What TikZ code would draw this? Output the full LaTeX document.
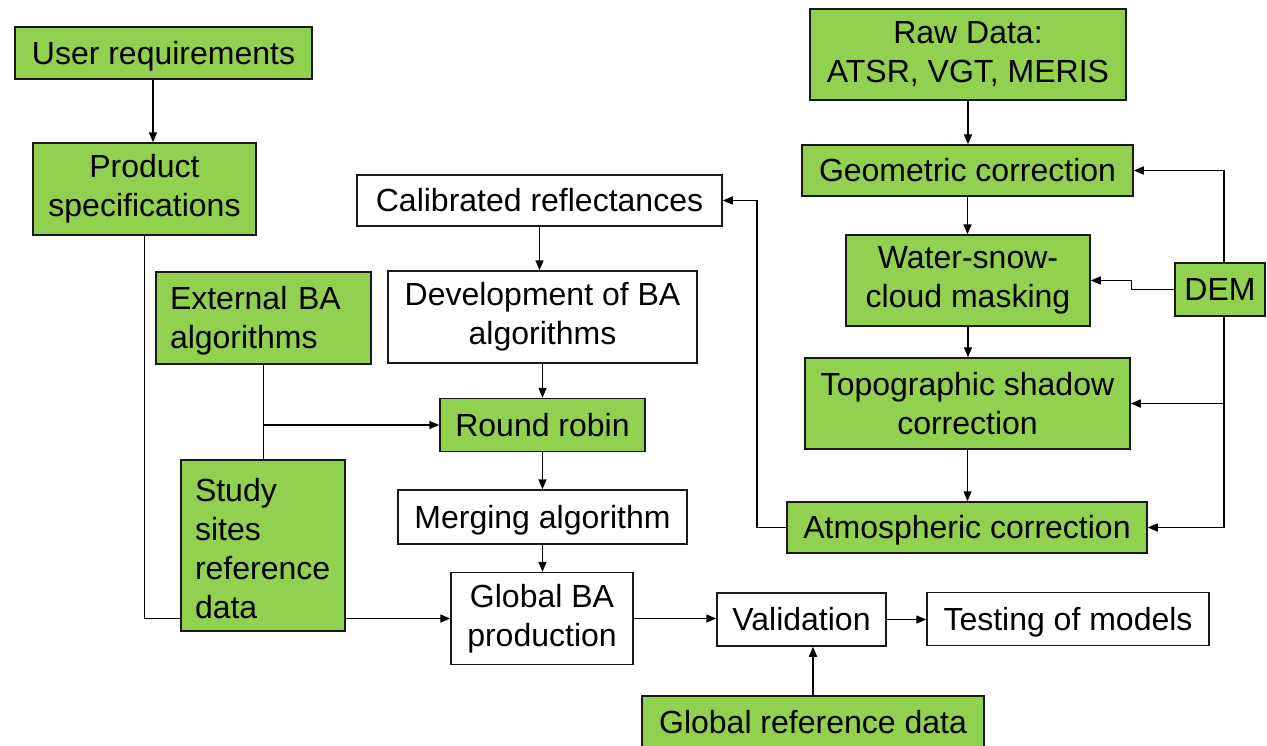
\documentclass[tikz,border=0pt]{standalone}
\usepackage{fontspec}
\setmainfont{Liberation Sans}
\usetikzlibrary{arrows.meta,calc}
\definecolor{boxgreen}{HTML}{92D050}
\tikzset{
  box/.style={draw=black!90, line width=1.5pt, inner sep=0pt, align=center,
    font=\fontsize{32}{39}\selectfont},
  gbox/.style={box, fill=boxgreen},
  wbox/.style={box, fill=white},
  lbox/.style={gbox, align=left, inner xsep=14pt},
  oneline/.style={text height=26pt, text depth=4pt},
  multiline/.style={execute at begin node={\rule{0pt}{29pt}}},
  arr/.style={line width=1.5pt, -{Triangle[length=10pt,width=8pt]}},
  ln/.style={line width=1.5pt}
}
\begin{document}
\begin{tikzpicture}[x=1pt,y=-1pt]
\clip (0,0) rectangle (1267,745);
\fill[white] (0,0) rectangle (1267,745);

% left column
\node[gbox, oneline, minimum width=297pt, minimum height=52pt] (ureq) at (163.5,53) {User requirements};
\node[gbox, multiline, minimum width=223pt, minimum height=92pt] (pspec) at (144.5,189) {Product\\specifications};
\node[lbox, multiline, text width=187pt, minimum height=92pt] (ext) at (263.5,318) {External BA\\algorithms};
\node[lbox, multiline, text width=136pt, minimum height=171pt] (study) at (263,545.5) {Study\\sites\\reference\\data};

% middle column
\node[wbox, oneline, minimum width=365pt, minimum height=51pt] (cal) at (539.5,200.5) {Calibrated reflectances};
\node[wbox, multiline, minimum width=309pt, minimum height=92pt] (dev) at (542.5,317) {Development of BA\\algorithms};
\node[gbox, oneline, minimum width=205pt, minimum height=53pt] (rr) at (542.5,425) {Round robin};
\node[wbox, oneline, minimum width=289pt, minimum height=54pt] (merge) at (542.5,517) {Merging algorithm};
\node[wbox, multiline, minimum width=182pt, minimum height=92pt] (gba) at (542,618.5) {Global BA\\production};

% bottom row
\node[wbox, oneline, minimum width=169pt, minimum height=53pt] (val) at (801.5,619.5) {Validation};
\node[wbox, oneline, minimum width=282pt, minimum height=53pt] (test) at (1068,619) {Testing of models};
\node[gbox, oneline, minimum width=342pt, minimum height=52pt] (gref) at (813,722) {Global reference data};

% pre-processing chain
\node[gbox, multiline, minimum width=316pt, minimum height=91pt] (raw) at (968,54.5) {Raw Data:\\ATSR, VGT, MERIS};
\node[gbox, oneline, minimum width=331pt, minimum height=51pt] (geo) at (967.5,170.5) {Geometric correction};
\node[gbox, multiline, minimum width=244pt, minimum height=91pt] (water) at (968,280.5) {Water-snow-\\cloud masking};
\node[gbox, multiline, minimum width=325pt, minimum height=91pt] (topo) at (967.5,403.5) {Topographic shadow\\correction};
\node[gbox, oneline, minimum width=360pt, minimum height=51pt] (atm) at (967,527.5) {Atmospheric correction};
\node[gbox, oneline, minimum width=90pt, minimum height=53pt] (dem) at (1220,289.5) {DEM};

\coordinate (demx) at (1224,0);
\coordinate (loopx) at (757,0);

% left-side connectors
\draw[arr] ([xshift=-10.5pt]ureq.south) -- ([xshift=8.5pt]pspec.north);
\draw[ln] (pspec.south) |- (study.west |- gba.west);
\draw[arr] (study.east |- gba.west) -- (gba.west);
\draw[ln] (ext.south) -- (ext.south |- study.north);
\draw[arr] (ext.south |- rr.west) -- (rr.west);

% middle column connectors
\draw[arr] (cal.south) -- (cal.south |- dev.north);
\draw[arr] (dev.south) -- (rr.north);
\draw[arr] (rr.south) -- (merge.north);
\draw[arr] (merge.south) -- (merge.south |- gba.north);
\draw[arr] (gba.east) -- (val.west |- gba.east);
\draw[arr] (val.east) -- (test.west |- val.east);
\draw[arr] (gref.north) -- (gref.north |- val.south);

% pre-processing chain connectors
\draw[arr] (raw.south) -- (raw.south |- geo.north);
\draw[arr] (geo.south) -- (geo.south |- water.north);
\draw[arr] (water.south) -- (water.south |- topo.north);
\draw[arr] (topo.south) -- (topo.south |- atm.north);
\draw[arr] (atm.west) -- (atm.west -| loopx) |- (cal.east);

% DEM feeds
\draw[arr] (dem.north -| demx) |- (geo.east);
\draw[arr] (dem.west) -- ++(-43,0) |- (water.east);
\draw[arr] (dem.south -| demx) |- (atm.east);
\draw[arr] (topo.east -| demx) -- (topo.east);
\end{tikzpicture}
\end{document}
